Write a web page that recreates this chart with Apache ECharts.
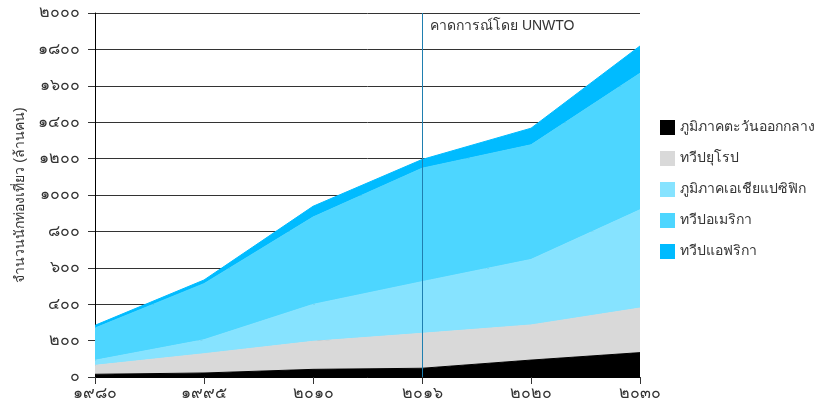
<!DOCTYPE html>
<html>
<head>
    <meta charset="UTF-8">
    <title>นักท่องเที่ยว</title>
    <style>
        html, body { margin: 0; padding: 0; background: #fff; }
        #main { width: 833px; height: 405px; }
    </style>
</head>
<body>
<div id="main"></div>
<script src="https://cdn.jsdelivr.net/npm/echarts@6/dist/echarts.min.js"></script>
<script type="text/javascript">
    // ปี (แกน x)
    var years = ['1980', '1995', '2010', '2016', '2020', '2030'];
    // ค่าของแต่ละภูมิภาค (ล้านคน) อ่านจากภาพ
    var middleEast = [15, 22, 42, 48, 93, 134];
    var europe = [49, 106, 154, 192, 193, 245];
    var asiaPacific = [28, 77, 203, 284, 360, 540];
    var americas = [177, 308, 480, 623, 630, 750];
    var africa = [15, 20, 59, 48, 91, 150];

    var names = ['ภูมิภาคตะวันออกกลาง', 'ทวีปยุโรป', 'ภูมิภาคเอเชียแปซิฟิก', 'ทวีปอเมริกา', 'ทวีปแอฟริกา'];
    var colors = ['#000000', '#d9d9d9', '#86e3ff', '#4dd6ff', '#00bbff'];
    var values = [middleEast, europe, asiaPacific, americas, africa];

    var thaiDigits = ['๐', '๑', '๒', '๓', '๔', '๕', '๖', '๗', '๘', '๙'];
    function toThai(v) {
        return String(v).replace(/[0-9]/g, function (d) { return thaiDigits[+d]; });
    }

    var myChart = echarts.init(document.getElementById('main'));

    var series = names.map(function (n, i) {
        var s = {
            name: n,
            type: 'line',
            stack: 'total',
            data: values[i],
            showSymbol: false,
            symbol: 'none',
            lineStyle: { width: 1, color: colors[i] },
            areaStyle: { color: colors[i], opacity: 1 },
            itemStyle: { color: colors[i] },
            z: 2
        };
        if (i == 0) {
            // เส้นแบ่งปีที่เริ่มคาดการณ์
            s.markLine = {
                silent: true,
                symbol: ['none', 'none'],
                label: { show: false },
                lineStyle: { color: '#1f7fb0', width: 1, type: 'solid' },
                data: [{ xAxis: '2016' }]
            };
        }
        return s;
    });

    var option = {
        animation: false,
        textStyle: { fontFamily: 'sans-serif' },
        grid: { left: 95, right: 193, top: 13, bottom: 28 },
        legend: {
            orient: 'vertical',
            left: 655,
            top: 115,
            itemWidth: 15,
            itemHeight: 15,
            itemGap: 16,
            icon: 'rect',
            textStyle: { fontSize: 14, color: '#333' },
            data: names
        },
        graphic: [{
            type: 'text',
            left: 430,
            top: 19,
            style: { text: 'คาดการณ์โดย UNWTO', fontSize: 14, fill: '#333' }
        }],
        xAxis: {
            type: 'category',
            boundaryGap: false,
            data: years,
            axisLine: { lineStyle: { color: '#000', width: 1 } },
            axisTick: { show: true, length: 7, lineStyle: { color: '#333' } },
            axisLabel: {
                color: '#333', fontSize: 16, margin: 9,
                formatter: function (v) { return toThai(v); }
            }
        },
        yAxis: {
            type: 'value',
            min: 0,
            max: 2000,
            interval: 200,
            name: 'จำนวนนักท่องเที่ยว (ล้านคน)',
            nameLocation: 'middle',
            nameGap: 66,
            nameTextStyle: { color: '#333', fontSize: 14 },
            axisLine: { show: true, lineStyle: { color: '#000', width: 1 } },
            axisTick: { show: true, length: 7, lineStyle: { color: '#333' } },
            axisLabel: {
                color: '#333', fontSize: 16, margin: 15,
                formatter: function (v) { return toThai(v); }
            },
            splitLine: { show: true, lineStyle: { color: '#333', width: 1 } }
        },
        series: series
    };
    myChart.setOption(option);
</script>
</body>
</html>
